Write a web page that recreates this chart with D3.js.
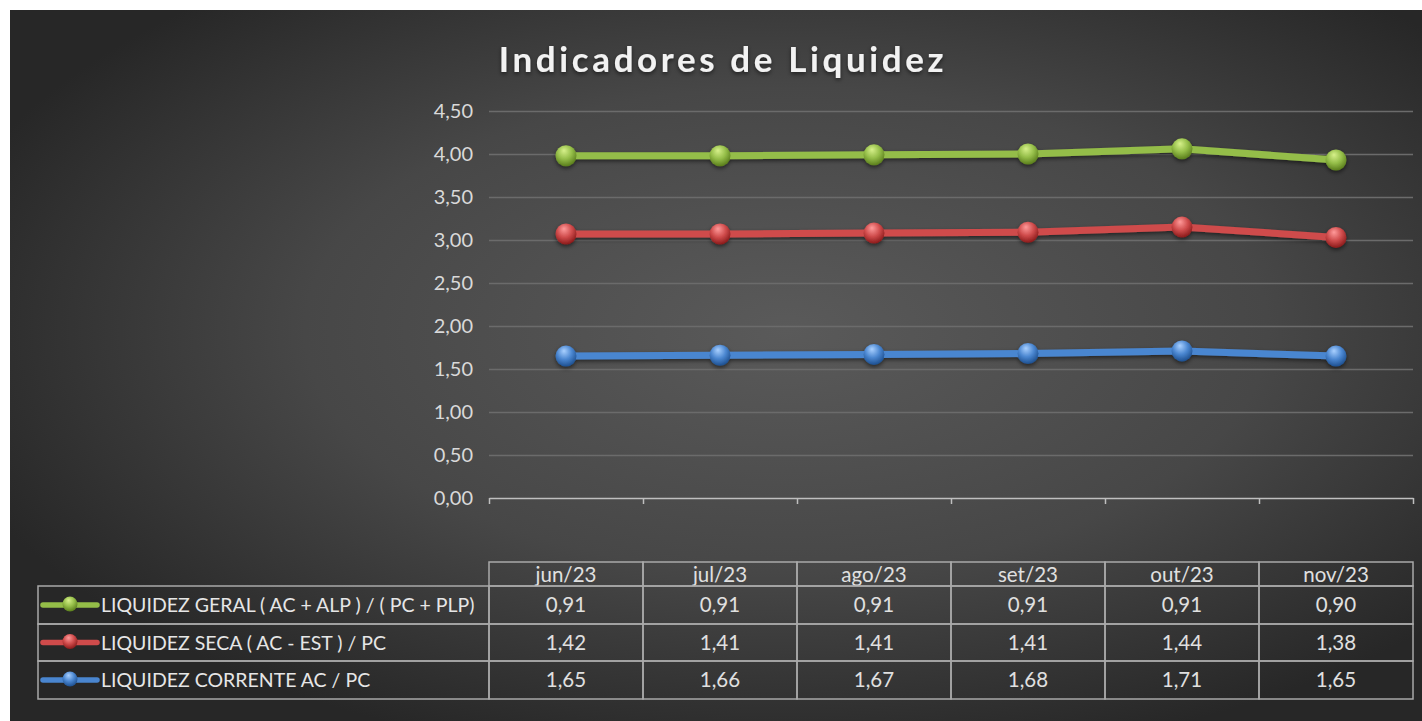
<!DOCTYPE html>
<html>
<head>
<meta charset="utf-8">
<script src="https://cdn.jsdelivr.net/npm/d3@7"></script>
<style>
  html, body { margin: 0; padding: 0; background: #fff; }
  svg { display: block; }
  text { font-family: Lato, "Open Sans", sans-serif; }
</style>
</head>
<body>
<div id="chart"></div>
<script>
// data
const months = ["jun/23", "jul/23", "ago/23", "set/23", "out/23", "nov/23"];
const geral = [0.91, 0.91, 0.91, 0.91, 0.91, 0.90];
const seca = [1.42, 1.41, 1.41, 1.41, 1.44, 1.38];
const corrente = [1.65, 1.66, 1.67, 1.68, 1.71, 1.65];
const yTicks = [0, 0.5, 1, 1.5, 2, 2.5, 3, 3.5, 4, 4.5];

const series = [
  { key: "geral", label: "LIQUIDEZ GERAL ( AC + ALP ) / ( PC + PLP)", values: geral, color: "#94bd48", light: "#d6f08a", dark: "#5a7d1c" },
  { key: "seca", label: "LIQUIDEZ SECA ( AC - EST )  / PC", values: seca, color: "#cf4b4b", light: "#ff9a9a", dark: "#8a1a1a" },
  { key: "corrente", label: "LIQUIDEZ CORRENTE  AC / PC", values: corrente, color: "#4a86d0", light: "#a9d0ff", dark: "#1d4f8f" }
];

const W = 1422, H = 721;
const plot = { left: 489, right: 1413, top: 111, bottom: 498 };

const br = d3.formatLocale({ decimal: ",", thousands: ".", grouping: [3], currency: ["R$", ""] });
const fmt = br.format(".2f");

const svg = d3.select("#chart").append("svg")
  .attr("width", W).attr("height", H);

const defs = svg.append("defs");
const bg = defs.append("radialGradient").attr("id", "bg")
  .attr("cx", "0.55").attr("cy", "0.45").attr("r", "0.62");
bg.append("stop").attr("offset", "0").attr("stop-color", "#5a5a5a");
bg.append("stop").attr("offset", "0.55").attr("stop-color", "#474747");
bg.append("stop").attr("offset", "1").attr("stop-color", "#272727");

for (const s of series) {
  const g = defs.append("radialGradient").attr("id", `ball-${s.key}`)
    .attr("cx", "0.45").attr("cy", "0.35").attr("r", "0.65")
    .attr("fx", "0.4").attr("fy", "0.25");
  g.append("stop").attr("offset", "0").attr("stop-color", s.light);
  g.append("stop").attr("offset", "0.55").attr("stop-color", s.color);
  g.append("stop").attr("offset", "1").attr("stop-color", s.dark);
}

const shadow = defs.append("filter").attr("id", "shadow")
  .attr("x", "-20%").attr("y", "-20%").attr("width", "140%").attr("height", "160%");
shadow.append("feDropShadow").attr("dx", 0).attr("dy", 2).attr("stdDeviation", 2)
  .attr("flood-color", "#000").attr("flood-opacity", 0.55);

svg.append("rect")
  .attr("x", 10).attr("y", 10).attr("width", W - 10).attr("height", H - 10)
  .attr("fill", "url(#bg)");

// title
svg.append("text")
  .attr("x", 723).attr("y", 72)
  .attr("text-anchor", "middle")
  .attr("fill", "#f2f2f2")
  .attr("font-size", 35).attr("font-weight", "bold")
  .attr("letter-spacing", 3.6)
  .attr("filter", "url(#shadow)")
  .text("Indicadores de Liquidez");

// scales
const x = d3.scaleBand().domain(months).range([plot.left, plot.right]);
const y = d3.scaleLinear().domain([0, 4.5]).range([plot.bottom, plot.top]);

// gridlines + y labels
const yAxis = svg.append("g")
  .attr("transform", `translate(${plot.left},0)`)
  .call(d3.axisLeft(y).tickValues(yTicks).tickFormat(fmt)
    .tickSize(-(plot.right - plot.left)).tickPadding(16));
yAxis.select(".domain").remove();
yAxis.selectAll(".tick line")
  .attr("stroke", "#6b6b6b").attr("stroke-width", 1.3)
  .filter(d => d === 0).remove();
yAxis.selectAll(".tick text")
  .attr("fill", "#d9d9d9").attr("font-size", 20)
  .attr("font-family", "Lato, sans-serif");

// x axis with ticks on band edges
const edge = d3.scaleLinear().domain([0, months.length]).range([plot.left, plot.right]);
const xAxis = svg.append("g")
  .attr("transform", `translate(0,${plot.bottom})`)
  .call(d3.axisBottom(edge).tickValues(d3.range(months.length + 1))
    .tickFormat("").tickSizeOuter(0).tickSizeInner(6));
xAxis.select(".domain").attr("stroke", "#bfbfbf").attr("stroke-width", 1.5);
xAxis.selectAll(".tick line").attr("stroke", "#bfbfbf").attr("stroke-width", 1.5);

// stacked lines
const rows = months.map((m, i) => ({ month: m, geral: geral[i], seca: seca[i], corrente: corrente[i] }));
const stacked = d3.stack().keys(["corrente", "seca", "geral"])(rows);
const cx = d => x(d.data.month) + x.bandwidth() / 2;

const line = d3.line().x(cx).y(d => y(d[1]));
const lines = svg.append("g").attr("filter", "url(#shadow)");
for (const layer of stacked) {
  const s = series.find(s => s.key === layer.key);
  lines.append("path")
    .datum(layer)
    .attr("fill", "none")
    .attr("stroke", s.color)
    .attr("stroke-width", 7)
    .attr("stroke-linejoin", "round")
    .attr("d", line);
  lines.selectAll(`circle.${layer.key}`)
    .data(layer)
    .join("circle")
      .attr("class", layer.key)
      .attr("cx", cx)
      .attr("cy", d => y(d[1]))
      .attr("r", 10.5)
      .attr("fill", `url(#ball-${layer.key})`);
}

// data table
const tbl = { top: 562, head: 586, rowH: [586, 624, 661, 699], left: 38 };
const tg = svg.append("g");
const border = "#a9a9a9";

// header cells
tg.selectAll("rect.head")
  .data(months)
  .join("rect")
    .attr("class", "head")
    .attr("x", d => x(d)).attr("y", tbl.top)
    .attr("width", x.bandwidth()).attr("height", tbl.head - tbl.top)
    .attr("fill", "none").attr("stroke", border).attr("stroke-width", 1.5);
tg.selectAll("text.head")
  .data(months)
  .join("text")
    .attr("class", "head")
    .attr("x", d => x(d) + x.bandwidth() / 2)
    .attr("y", tbl.head - 4)
    .attr("text-anchor", "middle")
    .attr("fill", "#e0e0e0").attr("font-size", 20.5)
    .text(d => d);

series.forEach((s, r) => {
  const y0 = tbl.rowH[r], y1 = tbl.rowH[r + 1];
  const mid = (y0 + y1) / 2;
  // legend cell
  tg.append("rect")
    .attr("x", tbl.left).attr("y", y0)
    .attr("width", plot.left - tbl.left).attr("height", y1 - y0)
    .attr("fill", "none").attr("stroke", border).attr("stroke-width", 1.5);
  tg.append("line")
    .attr("x1", 43).attr("x2", 97).attr("y1", mid).attr("y2", mid)
    .attr("stroke", s.color).attr("stroke-width", 5.5)
    .attr("stroke-linecap", "round");
  tg.append("circle")
    .attr("cx", 70).attr("cy", mid - 1).attr("r", 7.5)
    .attr("fill", `url(#ball-${s.key})`);
  tg.append("text")
    .attr("x", 101).attr("y", mid + 7)
    .attr("fill", "#e6e6e6").attr("font-size", 19.5)
    .text(s.label);
  // values
  tg.selectAll(`rect.v-${s.key}`)
    .data(s.values)
    .join("rect")
      .attr("class", `v-${s.key}`)
      .attr("x", (d, i) => x(months[i])).attr("y", y0)
      .attr("width", x.bandwidth()).attr("height", y1 - y0)
      .attr("fill", "none").attr("stroke", border).attr("stroke-width", 1.5);
  tg.selectAll(`text.v-${s.key}`)
    .data(s.values)
    .join("text")
      .attr("class", `v-${s.key}`)
      .attr("x", (d, i) => x(months[i]) + x.bandwidth() / 2)
      .attr("y", mid + 7)
      .attr("text-anchor", "middle")
      .attr("fill", "#e0e0e0").attr("font-size", 20.5)
      .text(d => fmt(d));
});
</script>
</body>
</html>
